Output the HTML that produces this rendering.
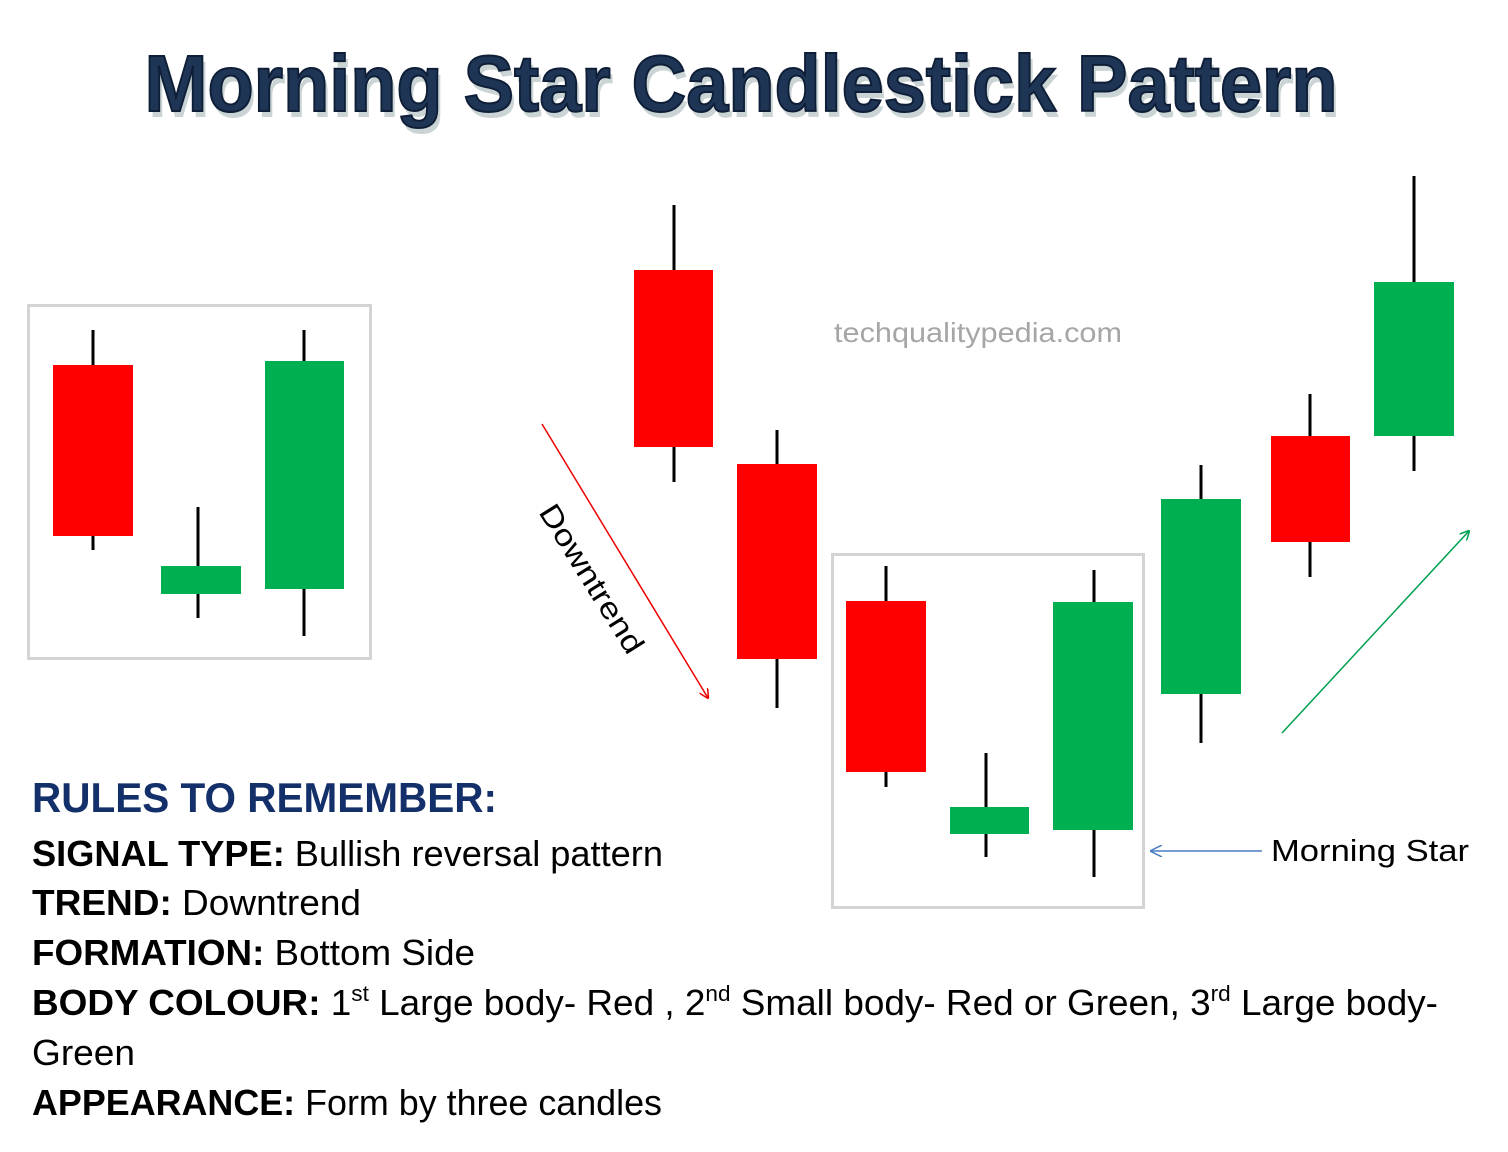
<!DOCTYPE html>
<html><head><meta charset="utf-8"><style>
body{margin:0;background:#fff}
svg{display:block}
text{font-family:"Liberation Sans",sans-serif}
</style></head><body>
<svg width="1508" height="1152" viewBox="0 0 1508 1152" xmlns="http://www.w3.org/2000/svg">
<defs>
<marker id="ar" markerWidth="10" markerHeight="10" refX="9" refY="5" orient="auto" markerUnits="userSpaceOnUse"><path d="M0,0 L10,5 L0,10" fill="none" stroke="#e00" stroke-width="1.5"/></marker>
<marker id="ag" markerWidth="10" markerHeight="10" refX="9" refY="5" orient="auto" markerUnits="userSpaceOnUse"><path d="M0,0 L10,5 L0,10" fill="none" stroke="#00a050" stroke-width="1.5"/></marker>
<marker id="ab" markerWidth="12" markerHeight="12" refX="11" refY="6" orient="auto" markerUnits="userSpaceOnUse"><path d="M0,0 L12,6 L0,12" fill="none" stroke="#4a7ec0" stroke-width="1.5"/></marker>
</defs>
<text x="741" y="113" text-anchor="middle" font-size="80" font-weight="bold" fill="#9aa" opacity="0.5" textLength="1193" lengthAdjust="spacingAndGlyphs" transform="translate(3,4)">Morning Star Candlestick Pattern</text>
<text x="741" y="111" text-anchor="middle" font-size="80" font-weight="bold" fill="#1f3556" stroke="#0e1e36" stroke-width="2" textLength="1193" lengthAdjust="spacingAndGlyphs">Morning Star Candlestick Pattern</text>

<rect x="28.5" y="305.5" width="342" height="353" fill="none" stroke="#d4d4d4" stroke-width="3"/>
<rect x="832.5" y="554.5" width="311" height="353" fill="none" stroke="#d4d4d4" stroke-width="3"/>

<g stroke="#000" stroke-width="3">
<line x1="93" y1="330" x2="93" y2="550"/><line x1="198" y1="507" x2="198" y2="618"/><line x1="304" y1="330" x2="304" y2="636"/>
<line x1="674" y1="205" x2="674" y2="482"/><line x1="777" y1="430" x2="777" y2="708"/>
<line x1="886" y1="566" x2="886" y2="787"/><line x1="986" y1="753" x2="986" y2="857"/><line x1="1094" y1="570" x2="1094" y2="877"/>
<line x1="1201" y1="465" x2="1201" y2="743"/><line x1="1310" y1="394" x2="1310" y2="577"/><line x1="1414" y1="176" x2="1414" y2="471"/>
</g>
<g fill="#ff0000">
<rect x="53" y="365" width="80" height="171"/><rect x="634" y="270" width="79" height="177"/><rect x="737" y="464" width="80" height="195"/><rect x="846" y="601" width="80" height="171"/><rect x="1271" y="436" width="79" height="106"/>
</g>
<g fill="#00b050">
<rect x="161" y="566" width="80" height="28"/><rect x="265" y="361" width="79" height="228"/><rect x="950" y="807" width="79" height="27"/><rect x="1053" y="602" width="80" height="228"/><rect x="1161" y="499" width="80" height="195"/><rect x="1374" y="282" width="80" height="154"/>
</g>

<line x1="542" y1="424" x2="708" y2="698" stroke="#e00" stroke-width="1.5" marker-end="url(#ar)"/>
<line x1="1282" y1="733" x2="1469" y2="531" stroke="#00a050" stroke-width="1.5" marker-end="url(#ag)"/>
<line x1="1262" y1="851" x2="1151" y2="851" stroke="#4a7ec0" stroke-width="1.5" marker-end="url(#ab)"/>
<text x="0" y="0" font-size="30" fill="#000" transform="translate(538,512) rotate(58)" textLength="170" lengthAdjust="spacingAndGlyphs">Downtrend</text>
<text x="1271" y="861" font-size="31" fill="#000" textLength="198" lengthAdjust="spacingAndGlyphs">Morning Star</text>
<text x="834" y="342" font-size="28" fill="#a6a6a6" textLength="288" lengthAdjust="spacingAndGlyphs">techqualitypedia.com</text>

<text x="32" y="812" font-size="42" font-weight="bold" fill="#14306a" textLength="465" lengthAdjust="spacingAndGlyphs">RULES TO REMEMBER:</text>
<g font-size="36" fill="#000">
<text x="32" y="866" textLength="631" lengthAdjust="spacingAndGlyphs"><tspan font-weight="bold">SIGNAL TYPE:</tspan> Bullish reversal pattern</text>
<text x="32" y="915" textLength="329" lengthAdjust="spacingAndGlyphs"><tspan font-weight="bold">TREND:</tspan> Downtrend</text>
<text x="32" y="965" textLength="443" lengthAdjust="spacingAndGlyphs"><tspan font-weight="bold">FORMATION:</tspan> Bottom Side</text>
<text x="32" y="1015" textLength="1406" lengthAdjust="spacingAndGlyphs"><tspan font-weight="bold">BODY COLOUR:</tspan> 1<tspan font-size="22" dy="-14">st</tspan><tspan dy="14">  Large body- Red , 2</tspan><tspan font-size="22" dy="-14">nd</tspan><tspan dy="14">  Small body- Red or Green, 3</tspan><tspan font-size="22" dy="-14">rd</tspan><tspan dy="14"> Large body-</tspan></text>
<text x="32" y="1065" textLength="103" lengthAdjust="spacingAndGlyphs">Green</text>
<text x="32" y="1115" textLength="630" lengthAdjust="spacingAndGlyphs"><tspan font-weight="bold">APPEARANCE:</tspan> Form by three candles</text>
</g>
</svg>
</body></html>
